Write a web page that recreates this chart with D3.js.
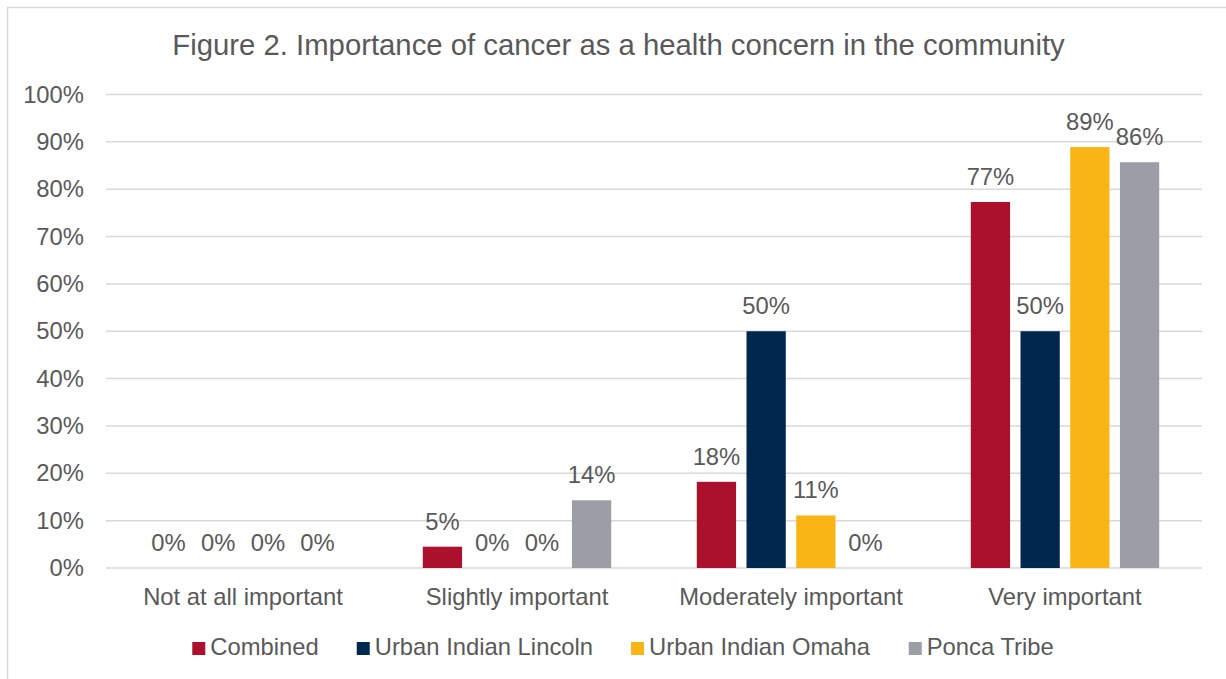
<!DOCTYPE html>
<html>
<head>
<meta charset="utf-8">
<script src="https://cdn.jsdelivr.net/npm/d3@7"></script>
<style>
  html, body { margin: 0; padding: 0; background: #ffffff; }
  svg { display: block; font-family: "Liberation Sans", Arial, sans-serif; }
</style>
</head>
<body>
<svg id="chart" width="1226" height="679"></svg>
<script>
// Survey responses: share of respondents per importance level (percent)
const categories = ["Not at all important", "Slightly important", "Moderately important", "Very important"];
const seriesNames = ["Combined", "Urban Indian Lincoln", "Urban Indian Omaha", "Ponca Tribe"];
const combined = [0, 4.5, 18.2, 77.3];
const urbanLincoln = [0, 0, 50, 50];
const urbanOmaha = [0, 0, 11.1, 88.9];
const poncaTribe = [0, 14.3, 0, 85.7];
const yTicks = [0, 10, 20, 30, 40, 50, 60, 70, 80, 90, 100];
const titleText = "Figure 2. Importance of cancer as a health concern in the community";

const seriesValues = [combined, urbanLincoln, urbanOmaha, poncaTribe];
const colors = ["#ab112d", "#00284f", "#f9b516", "#9b9ea5"];

const W = 1226, H = 679;
const plot = { left: 106, right: 1202, top: 94.5, bottom: 568 };
const textColor = "#595959";
const labelSize = 23.8;

const svg = d3.select("#chart");

// Chart frame
svg.append("rect")
  .attr("x", 7.5).attr("y", 7.5)
  .attr("width", W + 10).attr("height", H + 10)
  .attr("fill", "#fff").attr("stroke", "#d9d9d9").attr("stroke-width", 1.5);

// Title
svg.append("text")
  .attr("x", 618.5).attr("y", 55)
  .attr("text-anchor", "middle")
  .attr("font-size", 29.3)
  .attr("fill", textColor)
  .text(titleText);

const y = d3.scaleLinear().domain([0, 100]).range([plot.bottom, plot.top]);
const x0 = d3.scaleBand().domain(categories).range([plot.left, plot.right])
  .paddingInner(0.3124).paddingOuter(0.1562);
const x1 = d3.scaleBand().domain(seriesNames).range([0, x0.bandwidth()]).paddingInner(0.21);

// Gridlines
svg.append("g")
  .selectAll("line")
  .data(yTicks)
  .join("line")
  .attr("x1", plot.left).attr("x2", plot.right)
  .attr("y1", d => y(d)).attr("y2", d => y(d))
  .attr("stroke", "#d9d9d9").attr("stroke-width", 1.5);

// Y axis labels
const yAxis = d3.axisLeft(y).tickValues(yTicks).tickFormat(d => d + "%").tickSize(0).tickPadding(22);
const yg = svg.append("g").attr("transform", `translate(${plot.left},0)`).call(yAxis);
yg.select(".domain").remove();
yg.selectAll("text").attr("font-size", labelSize).attr("fill", textColor)
  .attr("font-family", "'Liberation Sans', Arial, sans-serif");

// X axis labels
const xAxis = d3.axisBottom(x0).tickSize(0).tickPadding(20);
const xg = svg.append("g").attr("transform", `translate(0,${plot.bottom})`).call(xAxis);
xg.select(".domain").remove();
xg.selectAll("text").attr("font-size", labelSize).attr("fill", textColor)
  .attr("font-family", "'Liberation Sans', Arial, sans-serif");

// Bars and value labels
const rows = categories.map((c, i) => ({
  category: c,
  items: seriesNames.map((s, j) => ({ series: s, value: seriesValues[j][i], color: colors[j] }))
}));

const groups = svg.append("g").selectAll("g")
  .data(rows)
  .join("g")
  .attr("transform", d => `translate(${x0(d.category)},0)`);

groups.selectAll("rect")
  .data(d => d.items)
  .join("rect")
  .attr("x", d => x1(d.series))
  .attr("width", x1.bandwidth())
  .attr("y", d => y(d.value))
  .attr("height", d => y(0) - y(d.value))
  .attr("fill", d => d.color);

groups.selectAll("text.value")
  .data(d => d.items)
  .join("text")
  .attr("class", "value")
  .attr("x", d => x1(d.series) + x1.bandwidth() / 2)
  .attr("y", d => y(d.value) - 17)
  .attr("text-anchor", "middle")
  .attr("font-size", labelSize)
  .attr("fill", textColor)
  .text(d => Math.round(d.value) + "%");

// Legend
const legend = svg.append("g");
const legendItems = legend.selectAll("g")
  .data(seriesNames.map((s, j) => ({ name: s, color: colors[j] })))
  .join("g");
legendItems.append("rect")
  .attr("width", 13).attr("height", 13)
  .attr("y", -13)
  .attr("fill", d => d.color);
legendItems.append("text")
  .attr("x", 18).attr("y", 0)
  .attr("font-size", labelSize)
  .attr("fill", textColor)
  .text(d => d.name);

let offset = 0;
const positions = [];
legendItems.each(function () {
  const w = this.getBBox().width;
  positions.push(offset);
  offset += w + 38;
});
const totalW = offset - 38;
const legendStart = 623 - totalW / 2;
legendItems.attr("transform", (d, i) => `translate(${legendStart + positions[i]},655)`);
</script>
</body>
</html>
